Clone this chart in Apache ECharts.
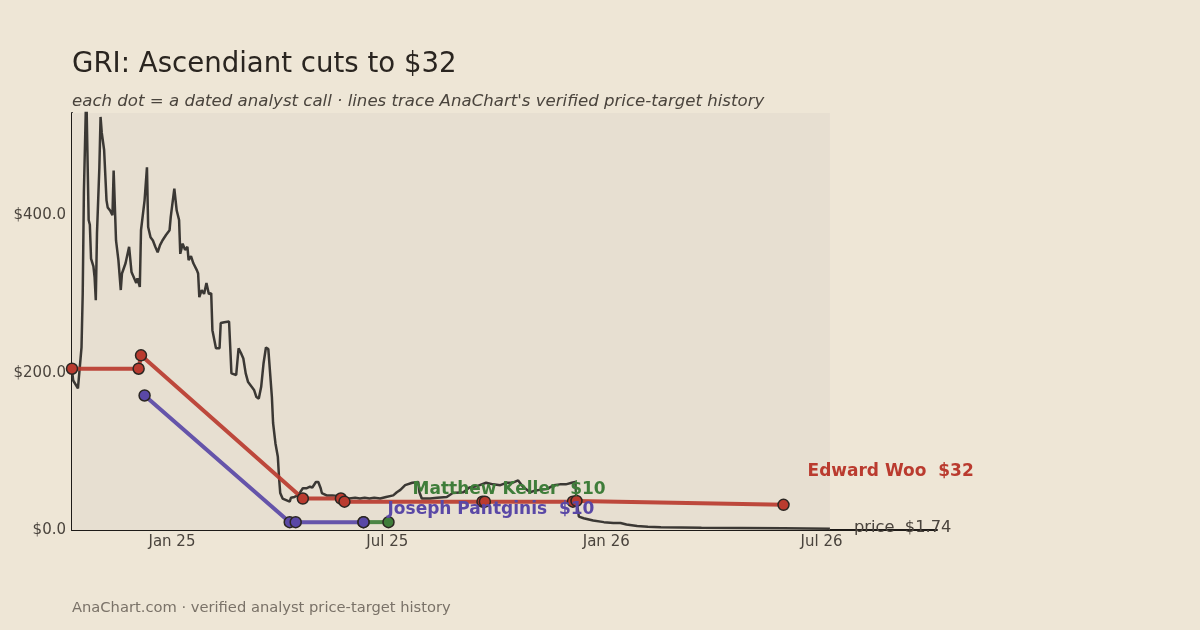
<!DOCTYPE html>
<html>
<head>
<meta charset="utf-8">
<script src="https://cdn.jsdelivr.net/npm/echarts@6/dist/echarts.min.js"></script>
<style>
  html, body { margin: 0; padding: 0; background: #EEE6D6; }
  #chart { width: 1200px; height: 630px; }
</style>
</head>
<body>
<div id="chart"></div>
<script>
// price history (daily closes, sampled)
var priceDates = [
  '2024-10-09','2024-10-10','2024-10-11','2024-10-14','2024-10-15','2024-10-17','2024-10-18','2024-10-19',
  '2024-10-21','2024-10-22','2024-10-23','2024-10-24','2024-10-25','2024-10-27','2024-10-28','2024-10-29',
  '2024-10-30','2024-11-01','2024-11-02','2024-11-03','2024-11-05','2024-11-07','2024-11-08','2024-11-10',
  '2024-11-12','2024-11-13','2024-11-14','2024-11-15','2024-11-17','2024-11-19','2024-11-20','2024-11-23',
  '2024-11-26','2024-11-27','2024-11-28','2024-12-02','2024-12-03','2024-12-05','2024-12-06','2024-12-09',
  '2024-12-11','2024-12-12','2024-12-14','2024-12-16','2024-12-18','2024-12-20','2024-12-22','2024-12-24',
  '2024-12-27','2024-12-30','2024-12-31','2025-01-03','2025-01-05','2025-01-07','2025-01-08','2025-01-10',
  '2025-01-12','2025-01-14','2025-01-15','2025-01-17','2025-01-19','2025-01-22','2025-01-23','2025-01-24',
  '2025-01-26','2025-01-28','2025-01-30','2025-02-01','2025-02-03','2025-02-04','2025-02-07','2025-02-10',
  '2025-02-11','2025-02-14','2025-02-18','2025-02-20','2025-02-21','2025-02-24','2025-02-26','2025-02-28',
  '2025-03-02','2025-03-04','2025-03-06','2025-03-09','2025-03-11','2025-03-13','2025-03-15','2025-03-17',
  '2025-03-19','2025-03-21','2025-03-23','2025-03-24','2025-03-26','2025-03-27','2025-03-29','2025-03-31',
  '2025-04-01','2025-04-02','2025-04-04','2025-04-07','2025-04-10','2025-04-11','2025-04-14','2025-04-17',
  '2025-04-21','2025-04-24','2025-04-27','2025-04-29','2025-05-02','2025-05-04','2025-05-06','2025-05-07',
  '2025-05-11','2025-05-16','2025-05-22','2025-05-26','2025-05-30','2025-06-04','2025-06-08','2025-06-12',
  '2025-06-16','2025-06-20','2025-06-25','2025-06-30','2025-07-06','2025-07-09','2025-07-12','2025-07-16',
  '2025-07-22','2025-07-27','2025-07-28','2025-07-30','2025-08-06','2025-08-12','2025-08-20','2025-08-25',
  '2025-09-03','2025-09-08','2025-09-15','2025-09-22','2025-09-28','2025-10-04','2025-10-09','2025-10-14',
  '2025-10-19','2025-10-23','2025-10-29','2025-11-02','2025-11-06','2025-11-12','2025-11-18','2025-11-23',
  '2025-11-28','2025-12-03','2025-12-06','2025-12-07','2025-12-09','2025-12-13','2025-12-21','2025-12-30',
  '2026-01-07','2026-01-13','2026-01-18','2026-01-27','2026-02-05','2026-02-16','2026-03-22','2026-04-24',
  '2026-05-30','2026-07-08'
];
var priceValues = [
  203, 190, 192, 180, 178, 232, 300, 430,
  560, 560, 394, 388, 345, 335, 321, 292,
  377, 461, 525, 505, 483, 419, 410, 406,
  400, 457, 455, 368, 343, 305, 326, 339,
  360, 362, 328, 314, 320, 309, 381, 419,
  461, 385, 372, 368, 360, 353, 362, 368,
  375, 381, 398, 434, 406, 394, 351, 364,
  356, 360, 343, 348, 339, 330, 326, 296,
  305, 300, 314, 300, 301, 254, 231, 231,
  263, 264, 265, 199, 197, 197, 231, 225,
  218, 199, 188, 182, 178, 169, 167, 182,
  212, 232, 230, 229, 169, 136, 110, 93,
  67, 47, 40, 38, 36, 41, 42, 44,
  53, 53, 55, 54, 61, 61, 53, 47,
  44, 44, 43, 41, 40, 41, 40, 41,
  40, 41, 40, 42, 44, 48, 51, 57,
  60, 61, 48, 40, 40, 41, 42, 47,
  48, 54, 56, 60, 58, 57, 60, 60,
  63, 55, 48, 50, 51, 52, 57, 58,
  58, 60, 61, 38, 17, 15, 12, 10,
  9, 9, 7, 5, 4, 3.5, 3.0, 2.6,
  2.2, 1.74
];

// analyst price-target calls
var wooDates = ['2024-10-09','2024-12-04','2024-12-06','2025-04-21','2025-05-23','2025-05-26','2025-09-19','2025-09-21','2025-12-04','2025-12-07','2026-05-30'];
var wooValues = [205, 205, 222, 40, 40, 36, 36, 36, 36, 37, 32];
var kellerDates = ['2025-06-11','2025-07-02'];
var kellerValues = [10, 10];
var pantDates = ['2024-12-09','2025-04-10','2025-04-15','2025-06-11'];
var pantValues = [171, 10, 10, 10];

var xTickDates = ['2025-01-01','2025-07-01','2026-01-01','2026-07-01'];
var xTickLabels = ['Jan 25','Jul 25','Jan 26','Jul 26'];
var axisStart = '2024-10-09';
var historyEnd = '2026-07-08';
var axisEnd = '2026-10-06';

var FONT = "'DejaVu Sans', sans-serif";

function ms(d) { return Date.UTC(+d.slice(0, 4), +d.slice(5, 7) - 1, +d.slice(8, 10)); }

function pairs(dates, values) {
  return dates.map(function (d, i) { return [ms(d), values[i]]; });
}

var tickTimes = xTickDates.map(ms);

var myChart = echarts.init(document.getElementById('chart'), null, { renderer: 'canvas' });

function callSeries(name, dates, values, color, label, offset) {
  return {
    name: name,
    type: 'line',
    data: pairs(dates, values),
    symbol: 'circle',
    symbolSize: 11,
    lineStyle: { color: color, width: 4, opacity: 0.92 },
    itemStyle: { color: color, borderColor: '#2b2622', borderWidth: 1.5 },
    emphasis: { disabled: true },
    z: 3,
    endLabel: {
      show: true,
      formatter: label,
      distance: 0,
      offset: offset,
      color: color,
      fontFamily: FONT,
      fontWeight: 'bold',
      fontSize: 17
    }
  };
}

var option = {
  backgroundColor: '#EEE6D6',
  animation: false,
  textStyle: { fontFamily: FONT },
  title: [
    {
      text: 'GRI: Ascendiant cuts to $32',
      left: 67, top: 46,
      textStyle: { fontFamily: FONT, fontSize: 27.6, fontWeight: 'normal', color: '#2a2520' }
    },
    {
      text: "each dot = a dated analyst call · lines trace AnaChart's verified price-target history",
      left: 67, top: 88,
      textStyle: { fontFamily: FONT, fontSize: 16.6, fontStyle: 'italic', fontWeight: 'normal', color: '#4a443d' }
    },
    {
      text: 'AnaChart.com · verified analyst price-target history',
      left: 67, top: 596,
      textStyle: { fontFamily: FONT, fontSize: 14.7, fontWeight: 'normal', color: '#7a7268' }
    }
  ],
  grid: { left: 72, right: 263, top: 113, bottom: 100, containLabel: false },
  xAxis: {
    type: 'value',
    min: ms(axisStart),
    max: ms(axisEnd),
    axisLine: { show: true, lineStyle: { color: '#1e1b18', width: 2 } },
    axisTick: { show: false },
    splitLine: { show: false },
    axisLabel: {
      customValues: tickTimes,
      color: '#4a443d',
      fontSize: 15,
      fontFamily: FONT,
      margin: 5,
      formatter: function (v) {
        var i = tickTimes.indexOf(v);
        return i >= 0 ? xTickLabels[i] : '';
      }
    }
  },
  yAxis: {
    type: 'value',
    min: 0,
    max: 530,
    interval: 200,
    axisLine: { show: true, lineStyle: { color: '#1e1b18', width: 2 } },
    axisTick: { show: false },
    splitLine: { show: false },
    axisLabel: {
      color: '#4a443d',
      fontSize: 15,
      fontFamily: FONT,
      margin: 6,
      formatter: function (v) { return v % 200 === 0 ? '$' + v.toFixed(1) : ''; }
    }
  },
  series: [
    {
      name: 'price',
      type: 'line',
      data: pairs(priceDates, priceValues),
      showSymbol: false,
      symbol: 'none',
      lineStyle: { color: '#3b3834', width: 2.5 },
      emphasis: { disabled: true },
      z: 2,
      markArea: {
        silent: true,
        itemStyle: { color: '#E7DFD1' },
        data: [[{ xAxis: ms(axisStart), yAxis: 0 }, { xAxis: ms(historyEnd), yAxis: 530 }]]
      },
      endLabel: {
        show: true,
        formatter: 'price  $1.74',
        distance: 0,
        offset: [24, -1],
        color: '#4a443d',
        fontFamily: FONT,
        fontSize: 16.3
      }
    },
    callSeries('Matthew Keller', kellerDates, kellerValues, '#3F7D3A', 'Matthew Keller  $10', [24, -33]),
    callSeries('Joseph Pantginis', pantDates, pantValues, '#5A48A6', 'Joseph Pantginis  $10', [24, -13]),
    callSeries('Edward Woo', wooDates, wooValues, '#BA3B2F', 'Edward Woo  $32', [24, -33])
  ]
};

myChart.setOption(option);
</script>
</body>
</html>
